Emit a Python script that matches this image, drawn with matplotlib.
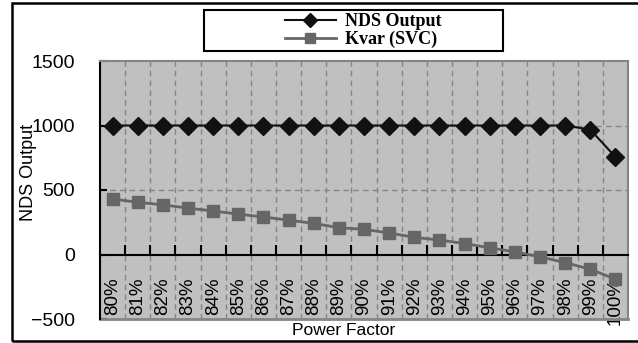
import numpy as np
import matplotlib
matplotlib.use("Agg")
import matplotlib.pyplot as plt
from matplotlib.patches import Rectangle

# power factor categories and the two series
power_factor = ["80%", "81%", "82%", "83%", "84%", "85%", "86%", "87%", "88%", "89%", "90%",
                "91%", "92%", "93%", "94%", "95%", "96%", "97%", "98%", "99%", "100%"]
nds_output = [1000, 1000, 1000, 1000, 1000, 1000, 1000, 1000, 1000, 1000, 1000,
              1000, 1000, 1000, 1000, 1000, 1000, 1000, 1000, 968, 756]
kvar_svc = [430, 405, 385, 360, 337, 313, 291, 266, 241, 208, 195,
            167, 133, 112, 85, 52, 20, -18, -63, -114, -192]
y_ticks = [-500, 0, 500, 1000, 1500]

plt.rcParams["font.family"] = ["Liberation Sans", "DejaVu Sans"]

fig = plt.figure(figsize=(6.38, 3.43), dpi=100)
ax = fig.add_axes([100 / 638, 24 / 343, 528 / 638, 258 / 343])

x = np.arange(len(power_factor))
grid_kw = dict(color="#858585", linestyle=(0, (4, 3)), linewidth=1.0)

ax.set_facecolor("#c0c0c0")
ax.set_xlim(-0.5, len(power_factor) - 0.5)
ax.set_ylim(-500, 1500)

# category boundaries carry the grid and the tick marks
bounds = np.arange(len(power_factor) + 1) - 0.5
ax.set_xticks(x)
ax.set_xticklabels(power_factor)
ax.set_xticks(bounds[1:-1], minor=True)
ax.tick_params(axis="x", which="major", length=0, pad=16.5, labelrotation=90, labelsize=13.5)
ax.tick_params(axis="x", which="minor", direction="in", length=7, width=1.5, color="black")
ax.grid(True, axis="x", which="minor", **grid_kw)

ax.set_yticks(y_ticks)
ax.tick_params(axis="y", direction="in", length=5, width=1.5, pad=18, labelsize=14)
for v in y_ticks[2:-1]:
    ax.axhline(v, zorder=0.5, **grid_kw)

# x axis crosses at zero
ax.spines["bottom"].set_position(("data", 0))
ax.spines["bottom"].set_linewidth(1.5)
ax.spines["left"].set_linewidth(1.5)
for side in ("top", "right"):
    ax.spines[side].set_color("#858585")
    ax.spines[side].set_linewidth(1.5)
ax.axhline(-500, color="#858585", linewidth=2, clip_on=False)

l1, = ax.plot(x, nds_output, color="#111111", linewidth=1.5, marker="D",
              markersize=9, label="NDS Output", zorder=4)
l2, = ax.plot(x, kvar_svc, color="#666666", linewidth=2, marker="s",
              markersize=8.5, label="Kvar (SVC)", zorder=3)

ax.set_ylabel("NDS Output", fontsize=13)
ax.yaxis.set_label_coords(-0.119, 0.57)
ax.set_xlabel("Power Factor", fontsize=12.5)
ax.xaxis.set_label_coords(0.462, -0.015)

# legend box above the plot
fig.patches.append(Rectangle((204 / 638, 292 / 343), 299 / 638, 41 / 343,
                             transform=fig.transFigure, fill=False,
                             edgecolor="black", linewidth=1.5))
fig.legend(handles=[l1, l2], loc="center left",
           bbox_to_anchor=(276 / 638, 312.5 / 343), frameon=False,
           prop={"family": "Liberation Serif", "weight": "bold", "size": 13},
           handlelength=2.8, handletextpad=0.5, labelspacing=0.05,
           borderpad=0, markerscale=0.8)

# outer chart border
fig.patches.append(Rectangle((12 / 638, 2 / 343), 1.0, 338 / 343,
                             transform=fig.transFigure, fill=False,
                             edgecolor="black", linewidth=1.8))

fig.savefig("out.png", dpi=100)
